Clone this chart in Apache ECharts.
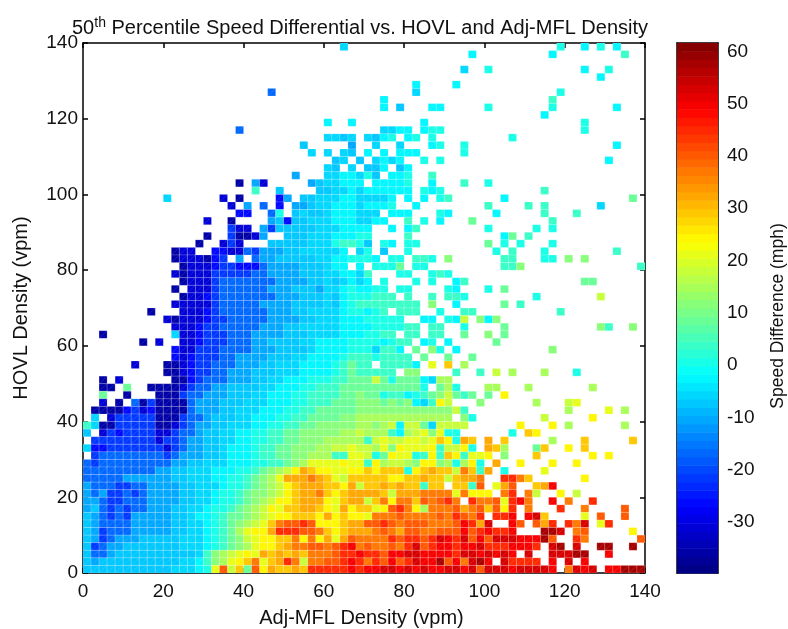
<!DOCTYPE html>
<html>
<head>
<meta charset="utf-8">
<style>html,body{margin:0;padding:0;background:#fff}#c{width:788px;height:629px}</style>
<script src="https://cdn.jsdelivr.net/npm/echarts@6/dist/echarts.min.js"></script>
</head>
<body>
<div id="c"></div>
<script>
// Value levels (mph), by colour letter; '.' = no data
const levelValues = {a:-36,b:-31,c:-26,d:-21,e:-16,f:-11,g:-8,h:-5,i:-2,j:1,k:4,l:8,m:12,n:15,o:18,p:22,q:25,r:29,s:33,t:37,u:41,v:45,w:49,x:53,y:57,z:60};
const barTicks = [-30,-20,-10,0,10,20,30,40,50,60];
// Rows from the top (HOVL 138-140) to the bottom (HOVL 0-2); columns Adj-MFL 0-68
const leftRows = [
".......... .......... .......... ..h.",
"",
"",
"",
"",
"",
".......... .......... ...e......",
"",
"",
"",
".......... .......... .......... i..i",
".......... .........e",
".......... .......... .......... hhgh",
".......... .......... .......g.. ...f",
".......... .......... ........h. h.hg",
".......... .......... .......... .gh.",
".......... .......... .......... hg.h",
".......... .......... ......f... hhii",
".......... .........a .fb.....fg hhii",
".......... .......... .k..g....g ghhi",
".......... h......b.a ....cf.ggh hhii",
".......... ........b. f.e.c.ffgh hiii",
".......... .........c c..ej.ghgg hiii",
".......... .....b..a. ...fgcgghh hiii",
".......... ........db b.fdgggggh hhii",
".......... .....a..da abf..ggghh hiii",
".......... ....a..bdb ...ggggghh hjkk",
".......... .abb..ccbb edfffgghhh hhi.",
".......... .abbbacd.f .effgggggh hiij",
".......... ..abbbcddc cceffffggg hii.",
".......... .babbbdddd deeffffggg hhii",
".......... ..abbbdeee eeeeffffgg hghi",
".......... .a.bbbdeee eeefffgggf hhij",
".......... ..abbcdeee eeeefffggg hgij",
".......... .bbbbbdeee eeffffgggg hgij",
"........a. ..bbbcdeee eeefffgghh hhij",
".......... babbbcddee eeeffffggh hhii",
".......... .bbbcddeee eefffgghhh hhii",
"..a....... .hbbcdddee effffggghh hhii",
".......a.b ..bbcdddee effgggghhi iiij",
".......... .cbbdddeee efffgggghi iiij",
".......... .cbcdddeef fffggghhii iijk",
"......b... aabcddeeef ffgghhhiii ijkl",
".......... aabcddeeff fggghhhiii ijkl",
"..a.b..... .aacdeeeff fgghhiiijj jkkl",
"..aa.l..aa aabdeeffgg gghhiiijjk kkll",
"..l..a...a aadeefffgg ghhiiijjkk kkll",
"..b.a.eada aaaefffggg hhhiiijjkk klll",
".aaaacdbca aaaefffggh hhiiijjkkl llll",
".h.bddddda aadeefgggh hiiijjkkll llmm",
"khaaddddda abdeffgghh hiijjkkllm mmmm",
"g.bdcddddb bdeefgghhi ijjkkllmmm mmnn",
".ddddddddb ddeffgghhi ijjkkllmmm nnnn",
"hccddddddd bdeffgghii ijkkllmmmn noop",
".deeeeeeee defffgghii ijkkllmmnn nkkp",
"edeeeeeeee effgghhhii ijjkklmnpp ppqp",
"eeeeeeeeef fgghhhiiij jklmnoqsrq qppq",
"eeeeefffff fgghhhiijj klmnpsssts rpor",
"feeeddeeff ffgghhhijj klmnoqrsss rrqs",
"fefddedeff ffgghhijjk lmmnoqrsst rqrs",
"ffeddeeeff ffgghhijjk lmnoqqrsss qprs",
"fgededeeff fgghhijjkl mnoqprrssr qpsq",
"gfededffff fgghiijkll mnopqqrrrq sqrq",
"gfeeeeffff fgghhijklm noprtuuvuq qqrs",
"gfdeeeffff fgghhijkln pqqsvvvuut rqrs",
"gfdefffggg gghhhijklm opqqrrtqtq spsu",
"gdeffggggg gghhhijklm npqqrsttuu tuvw",
"geefgggggg gggghkmnop qpsrsrsrtt tuvv",
"gfgggggggg gghhikmnpq rtprsvtott uuvw",
"gggggggggg ghhhijpuor luqsrrsrvv vvvw"
];
// Same rows; columns Adj-MFL 68-138
const rightRows = [
"...... .......... .........j ..i.j.i...",
"...... ........i. ........i. .......k..",
"",
"...... .......h.. j......... ..i..j....",
"...... .......... .......... ....i.....",
"...... .i....i... .......... ..........",
"...... .h........ .........j ..........",
"...i.. .......... ........k. ..........",
"...i.g ...ii..... j.......j. ......i...",
"...... .......... .......i.. ..........",
"...... ..i....... .......... ..j.......",
"...hhi i.ijj..... .......... ..j.......",
".hgij. ij.j...... ...j...... ..........",
"..h..h ...ij..j.. .......... ......i...",
".i.i.i ii.....j.. .......... ..........",
"g.hihi ..j.j..... .......... .....i....",
".ggi.g i......... .......... ..........",
"hjg.ii j..k...... .......... ..........",
"i.iiii j..i...k.. j......... ..........",
"hiiiii i.jij..... .......k.. ..........",
"hhhhi. i.i.jk.... ..i....... ........l.",
"hiiij. .i........ k....k.k.. ....h.....",
"hhh.ii i...ji.... .i.....k.. .k........",
"hhii.. k.j.i...l. ........k. ..........",
"ii..i. ik........ j.....j.j. ..........",
"jj.... k......... ..il.k.... ..........",
"jg.ji. jj........ l.j.j...j. ..........",
"hj.g.. j......... .j.k...j.. ......k...",
"jji.jj .kkj.m.... ..kk...jj. m.m.......",
"i.jjjl .jj....... ..kkm..... .........k",
"hk...j j..jkj.... .......... ..........",
"hi.j.. .j.j..ik.. .......... ..ll......",
"iijj.j j....ji... j.l....... ..........",
"jjkkk. k..k.kkj.. ......j... ....o.....",
"kkkkkk kk.m..i... ..l.k..... ..........",
"jijk.k kk..j..kk. .........k ..........",
"ijjjjj ..ii.jio.m im........ ..........",
"iijjjj kk.kk..j.. ..l....... ....mk..m.",
"ijjkk. kk.kk..l.. m.l....... ..........",
"jjjijk k.ij.i.... .l........ ..........",
"jjhkki .l.mj.i... ........m. ..........",
"kkjkkk k.l..l..l. .......... ..........",
"kk.kkk ki.p.r.n.. .......... ..........",
"kkkkk. mm....k..k .o.n...n.. .j........",
"lloljl llihnn.... .......... ..........",
"llllll llj.lnj... nn...n.... ...n......",
"mlljkk ijklmolkl. l.q....... ..........",
"mmmlml mihkqo...m ......n... op........",
"mmmmmm mmmmmmok.. .......... n....p.n..",
"nnnnnn nnnnnn.mj. .......o.. ...q......",
"nnmnoi oolhoooo.. ....q...q. n......n..",
"onnnki nopmpjj... ...j.rq... ..........",
"nkopoo ppoprqjsr. s.r.....n. ..r.....r.",
"oonpmq pppqkooqj. srn...lr.. q.r.......",
"pojlqp pjkqkrqkpp q.m...r... ...q.q....",
"pkqnoo nmqqmnjnqj .s..q...q. .q........",
"qrqrrr jqrsrrotrk s.j....p.. ..........",
"rrrrqq rrsrrorsst ..vvtr.... ..q.......",
"orrsrs rrkrr.rrku .psu..rsw. ..........",
"sssros ssttttptqq q.tv.to..q .o........",
"sortqt trutuvt.vt tupvwt..w. t..v......",
"rrpquv tqntttustu ruqv.t...v ..t....u..",
"qptttu ttttutvutv .vvw.wxr.. ..p.u..u..",
"suuvut uuutttuwvs x..wu.usv. vtx.pv....",
"sstuts uuttuuuwuv wvvw...yyx .tu.....q.",
"ttttvu vvuvxwvxuw uxxxwwwyu. .vt......u",
"tuttut vxuvwwvwwx vvvwwwv.xy .x..yy..y.",
"wvvuww xxwwwwvxxw xwxw.x..xx xyy..w....",
"vtvuwu vxwwyuwtxy w.xvvvv.w. x.w.......",
"vwwxxw xwxwwxxwxu xxxwxxxxw. txwx.wwyyy"
];

const barMin = -39.75, barMax = 61.6, nColors = 64;
function jet(t){
  const c = x => Math.round(255*Math.max(0,Math.min(1,x)));
  return 'rgb('+c(1.5-Math.abs(4*t-3))+','+c(1.5-Math.abs(4*t-2))+','+c(1.5-Math.abs(4*t-1))+')';
}
function jetColor(v){
  let k = Math.floor((v-barMin)/(barMax-barMin)*nColors);
  k = Math.max(0,Math.min(nColors-1,k));
  return jet((k+0.5)/nColors);
}
const cellData = [];
const nRows = leftRows.length;
leftRows.forEach((row,t)=>{
  const s = row.replace(/ /g,'').padEnd(34,'.') + rightRows[t].replace(/ /g,'').padEnd(36,'.');
  for(let c=0;c<70;c++){
    const ch = s[c];
    if(ch!=='.') cellData.push([c*2,(nRows-1-t)*2,levelValues[ch]]);
  }
});
const barBands = [];
for(let k=0;k<nColors;k++){
  barBands.push([barMin+(barMax-barMin)*k/nColors, barMin+(barMax-barMin)*(k+1)/nColors]);
}
const FONT='"Liberation Sans",Arial,sans-serif';
const INK='#111';
const tickStyle={show:true,inside:true,length:5,lineStyle:{color:'#000',width:1.5}};
const lineStyle={show:true,onZero:false,lineStyle:{color:'#000',width:1.5}};
const labelStyle={color:INK,fontFamily:FONT,fontSize:19};
function mirrorX(){return {type:'value',gridIndex:0,position:'top',min:0,max:140,interval:20,axisLine:lineStyle,axisTick:tickStyle,axisLabel:{show:false},splitLine:{show:false}};}
function mirrorY(){return {type:'value',gridIndex:0,position:'right',min:0,max:140,interval:20,axisLine:lineStyle,axisTick:tickStyle,axisLabel:{show:false},splitLine:{show:false}};}
const chart = echarts.init(document.getElementById('c'),null,{renderer:'canvas'});
chart.setOption({
  animation:false,
  backgroundColor:'#fff',
  title:{
    text:'50{sup|th} Percentile Speed Differential vs. HOVL and Adj-MFL Density',
    left:67,top:11,
    textStyle:{color:INK,fontFamily:FONT,fontSize:20,fontWeight:'normal',
      rich:{sup:{fontSize:14,fontFamily:FONT,color:INK,verticalAlign:'top',padding:[0,0,10,0]}}}
  },
  grid:[
    {left:83,right:143,top:43,bottom:56,z:5,outerBoundsMode:'none'},
    {left:677,width:41,top:43,bottom:56,outerBoundsMode:'none'}
  ],
  xAxis:[
    {type:'value',gridIndex:0,min:0,max:140,interval:20,position:'bottom',
     name:'Adj-MFL Density (vpm)',nameLocation:'middle',nameGap:35,
     nameTextStyle:{color:INK,fontFamily:FONT,fontSize:20,padding:[0,5,0,0]},
     axisLine:lineStyle,axisTick:tickStyle,axisLabel:Object.assign({margin:9},labelStyle),splitLine:{show:false}},
    mirrorX(),
    {type:'value',gridIndex:1,min:0,max:1,position:'bottom',axisLine:lineStyle,axisTick:{show:false},axisLabel:{show:false},splitLine:{show:false}},
    {type:'value',gridIndex:1,min:0,max:1,position:'top',axisLine:lineStyle,axisTick:{show:false},axisLabel:{show:false},splitLine:{show:false}}
  ],
  yAxis:[
    {type:'value',gridIndex:0,min:0,max:140,interval:20,position:'left',
     name:'HOVL Density (vpm)',nameLocation:'middle',nameGap:52,nameRotate:90,
     nameTextStyle:{color:INK,fontFamily:FONT,fontSize:20},
     axisLine:lineStyle,axisTick:tickStyle,axisLabel:Object.assign({margin:5,padding:[2,0,0,0]},labelStyle),splitLine:{show:false}},
    mirrorY(),
    {type:'value',gridIndex:1,min:barMin,max:barMax,position:'right',
     name:'Speed Difference (mph)',nameLocation:'middle',nameGap:51,nameRotate:90,
     nameTextStyle:{color:INK,fontFamily:FONT,fontSize:17.5,padding:[0,16,0,0]},
     axisLine:lineStyle,
     axisTick:Object.assign({},tickStyle,{customValues:barTicks}),
     axisLabel:Object.assign({margin:9,padding:[7,0,0,0],customValues:barTicks},labelStyle),splitLine:{show:false}},
    {type:'value',gridIndex:1,min:barMin,max:barMax,position:'left',
     axisLine:lineStyle,
     axisTick:Object.assign({},tickStyle,{customValues:barTicks}),
     axisLabel:{show:false},splitLine:{show:false}}
  ],
  series:[
    {type:'custom',name:'cells',xAxisIndex:0,yAxisIndex:0,data:cellData,clip:true,z:2,silent:true,
     encode:{x:0,y:1},progressive:0,
     renderItem(params,api){
       const x=api.value(0),y=api.value(1),v=api.value(2);
       const a=api.coord([x,y+2]), b=api.coord([x+2,y]);
       return {type:'group',children:[
         {type:'rect',shape:{x:a[0],y:a[1],width:b[0]-a[0],height:b[1]-a[1]},
          style:{fill:jetColor(v),stroke:'rgba(255,255,255,0.17)',lineWidth:1}},
         {type:'line',shape:{x1:a[0],y1:b[1],x2:b[0],y2:a[1]},
          style:{stroke:'rgba(255,255,255,0.12)',lineWidth:1}}
       ]};
     }},
    {type:'custom',name:'colorbar',xAxisIndex:2,yAxisIndex:2,data:barBands,z:2,silent:true,
     encode:{y:[0,1]},
     renderItem(params,api){
       const a=api.coord([0,api.value(1)]), b=api.coord([1,api.value(0)]);
       return {type:'rect',shape:{x:a[0],y:a[1],width:b[0]-a[0],height:b[1]-a[1]+0.5},
         style:{fill:jetColor((api.value(0)+api.value(1))/2)}};
     }}
  ]
});
</script>
</body>
</html>
